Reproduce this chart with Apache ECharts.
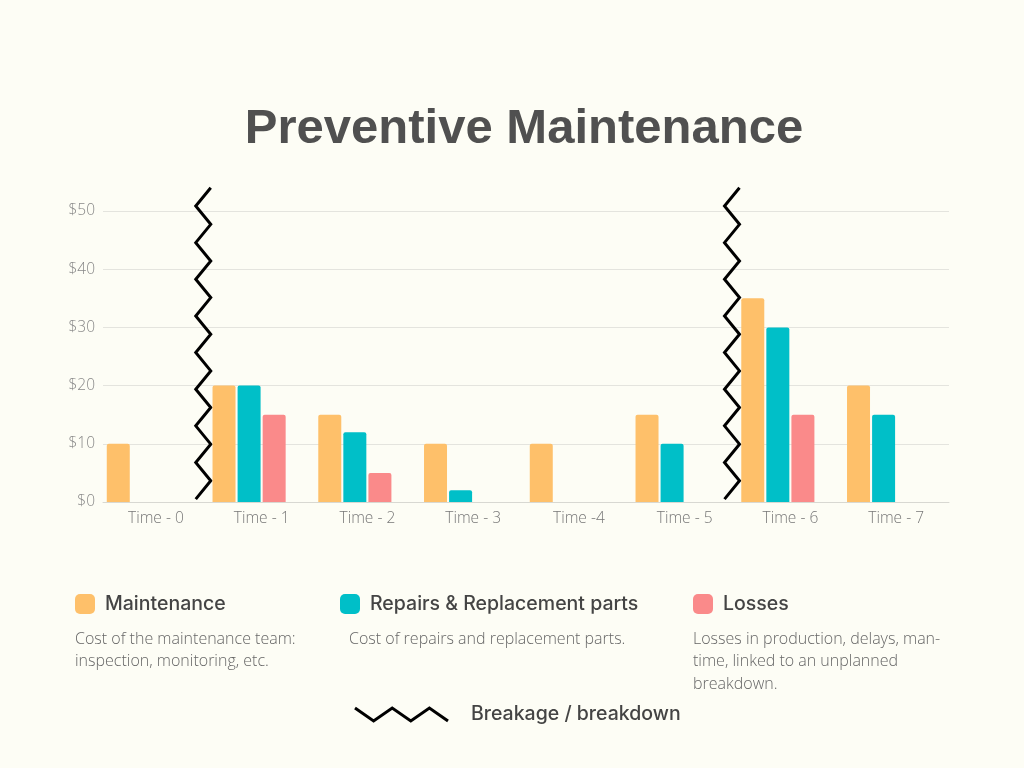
<!DOCTYPE html>
<html>
<head>
<meta charset="utf-8">
<script src="https://cdn.jsdelivr.net/npm/echarts@6/dist/echarts.min.js"></script>
<style>
html,body{margin:0;padding:0;background:#fdfdf5;}
#chart{width:1024px;height:768px;}
</style>
</head>
<body>
<div id="chart"></div>
<script>
const categories = ['Time - 0','Time - 1','Time - 2','Time - 3','Time -4','Time - 5','Time - 6','Time - 7'];
const maintenance = [10, 20, 15, 10, 10, 15, 35, 20];
const repairs     = [null, 20, 12, 2, null, 10, 30, 15];
const losses      = [null, 15, 5, null, null, null, 15, null];
const spacer      = [null, null, null, null, null, null, null, null];
const breakAfter  = [0, 5];
const yTicks = [0, 10, 20, 30, 40, 50];
const seriesNames = ['Maintenance', 'Repairs & Replacement parts', 'Losses'];
const descriptions = [
  'Cost of the maintenance team:\ninspection, monitoring, etc.',
  'Cost of repairs and replacement parts.',
  'Losses in production, delays, man-\ntime, linked to an unplanned\nbreakdown.'
];
const breakLabel = 'Breakage / breakdown';
const titleText = 'Preventive Maintenance';
const colors = ['#fec06a', '#00bfc8', '#fa8a8a'];

const chart = echarts.init(document.getElementById('chart'));

function barSeries(name, data, color) {
  return {
    name: name, type: 'bar', data: data, barWidth: 23, barGap: '9%',
    itemStyle: { color: color, borderRadius: [2, 2, 0, 0] }
  };
}

const legendText = { fontFamily: 'Inter', fontSize: 19.5, fontWeight: 500, color: '#444', padding: [0, 0, 0, 5] };
function legendAt(left, name) {
  return { left: left, top: 594, padding: 0, data: [name], icon: 'roundRect', itemWidth: 20, itemHeight: 20,
    textStyle: legendText, selectedMode: false };
}

const option = {
  backgroundColor: '#fdfdf5',
  animation: false,
  grid: { left: 103, right: 75, top: 211, bottom: 266 },
  legend: [
    legendAt(75, seriesNames[0]),
    legendAt(340, seriesNames[1]),
    legendAt(693, seriesNames[2])
  ],
  xAxis: {
    type: 'category', data: categories,
    axisLine: { show: true, lineStyle: { color: '#d8d8d2' } },
    axisTick: { show: false },
    axisLabel: { color: '#777', fontSize: 15.5, fontFamily: 'Open Sans', fontWeight: 300, margin: 9 }
  },
  yAxis: {
    type: 'value', min: yTicks[0], max: yTicks[yTicks.length - 1], interval: 10,
    axisLine: { show: false }, axisTick: { show: false },
    axisLabel: { color: '#888', fontSize: 15.5, fontFamily: 'Open Sans', fontWeight: 300, margin: 8,
      formatter: v => '$' + v },
    splitLine: { lineStyle: { color: '#e4e4de', width: 1 } }
  },
  series: [
    barSeries(seriesNames[0], maintenance, colors[0]),
    barSeries(seriesNames[1], repairs, colors[1]),
    barSeries(seriesNames[2], losses, colors[2]),
    { name: '_spacer', type: 'bar', data: spacer, barWidth: 23, barGap: '9%', silent: true },
    {
      name: 'breaks', type: 'custom', silent: true, clip: false,
      data: breakAfter.map(i => [i, 0]),
      encode: { x: 0, y: 1 },
      renderItem: function (params, api) {
        const i = api.value(0);
        const c0 = api.coord([i, 0]);
        const c1 = api.coord([i + 1, 0]);
        const boundary = (c0[0] + c1[0]) / 2;
        const top = api.coord([i, 54])[1];
        const bottom = api.coord([i, 0.5])[1];
        const n = 17;
        const right = boundary + 2, left = boundary - 13;
        const pts = [];
        for (let k = 0; k <= n; k++) {
          pts.push([k % 2 === 0 ? right : left, top + k * (bottom - top) / n]);
        }
        return { type: 'polyline', shape: { points: pts },
          style: { stroke: '#000', lineWidth: 3, fill: null, lineJoin: 'miter' } };
      }
    }
  ],
  graphic: [
    { type: 'text', x: 524, y: 129,
      style: { text: titleText, font: 'bold 49px "Liberation Sans", Arial, sans-serif', fill: '#505050',
        textAlign: 'center', textVerticalAlign: 'middle' } },
    { type: 'text', left: 75, top: 628,
      style: { text: descriptions[0], font: '300 16px "Open Sans", sans-serif', fill: '#666', lineHeight: 22.5 } },
    { type: 'text', left: 349, top: 628,
      style: { text: descriptions[1], font: '300 16px "Open Sans", sans-serif', fill: '#666', lineHeight: 22.5 } },
    { type: 'text', left: 693, top: 628,
      style: { text: descriptions[2], font: '300 16px "Open Sans", sans-serif', fill: '#666', lineHeight: 22.5 } },
    { type: 'polyline', shape: { points: [[355, 708], [373.6, 721], [392.2, 708], [410.8, 721], [429.4, 708], [448, 721]] },
      style: { stroke: '#000', lineWidth: 3, fill: null } },
    { type: 'text', x: 471, y: 714,
      style: { text: breakLabel, font: '500 19.5px Inter, sans-serif', fill: '#444', textVerticalAlign: 'middle' } }
  ]
};
chart.setOption(option);
</script>
</body>
</html>
